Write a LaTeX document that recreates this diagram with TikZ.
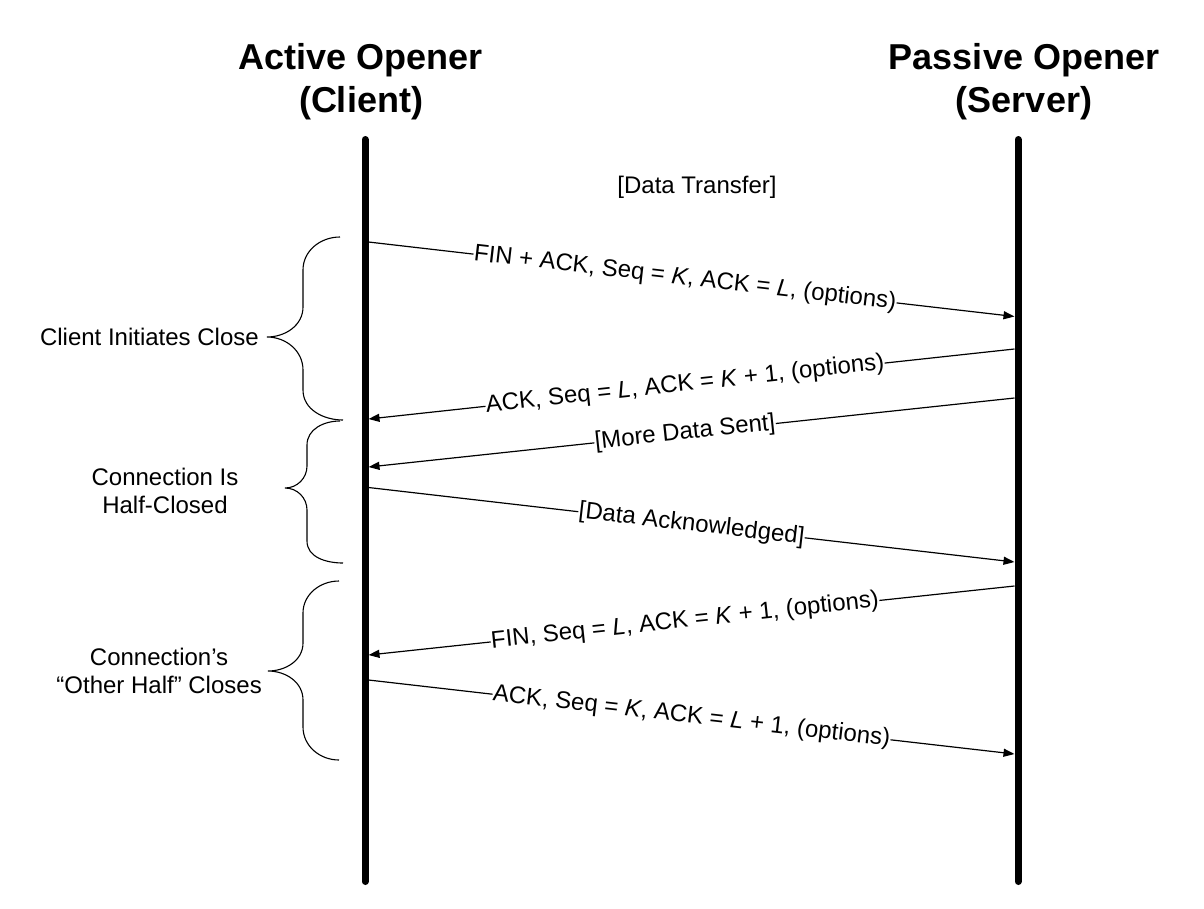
\documentclass[tikz,border=0pt]{standalone}
\usepackage{fontspec}
\setmainfont{Liberation Sans}
\usetikzlibrary{arrows.meta, positioning}
\newcommand{\msgfont}{\fontsize{24}{28}\selectfont}
\newcommand{\headfont}{\fontsize{36}{43}\selectfont\bfseries}

\begin{document}
\begin{tikzpicture}[x=1pt, y=-1pt,% styles used in image code
         > = {Triangle[length=11pt, width=8pt]}, % defined in "arrows.meta
lifeline/.style = {line width=7pt, line cap=round},
     msg/.style = {->, line width=1.2pt},
     lbl/.style = {sloped, fill=white, inner sep=0.5pt, font=\msgfont},
   curly/.style = {line width=1.1pt},
   phase/.style = {align=center, inner sep=0pt, font=\msgfont},
    head/.style = {align=center, inner sep=0pt, font=\headfont}
                        ]
\useasboundingbox (0,0) rectangle (1204,908);
	% the two ends
	\node[head] (client) at (361,82) {Active Opener\\(Client)};
	\node[head] (server) at (1024,82) {Passive Opener\\(Server)};
	\coordinate (ctop) at (365,139.5);
	\coordinate (cbot) at (365,881.5);
	\coordinate (stop) at (1018,139.5);
	\coordinate (sbot) at (1018,881.5);
	\draw[lifeline] (ctop) -- (cbot);
	\draw[lifeline] (stop) -- (sbot);

	\node[font=\msgfont] (xfer) at (697,187) {[Data Transfer]};

	% message end points
	\coordinate (c1) at (368.5,242);   \coordinate (s1) at (1014.5,316.5);
	\coordinate (s2) at (1014.5,349);  \coordinate (c2) at (368.5,419);
	\coordinate (s3) at (1014.5,398);  \coordinate (c3) at (368.5,467);
	\coordinate (c4) at (368.5,487.5); \coordinate (s4) at (1014.5,562);
	\coordinate (s5) at (1014.5,586);  \coordinate (c5) at (368.5,655);
	\coordinate (c6) at (368.5,680);   \coordinate (s6) at (1014.5,754);

	\draw [msg] (c1) -- (s1) node[lbl,pos=0.49] {FIN + ACK, Seq = \textit{K}, ACK = \textit{L}, (options)};
	\draw [msg] (s2) -- (c2) node[lbl,pos=0.51] {ACK, Seq = \textit{L}, ACK = \textit{K} + 1, (options)};
	\draw [msg] (s3) -- (c3) node[lbl,pos=0.51] {[More Data Sent]};
	\draw [msg] (c4) -- (s4) node[lbl,pos=0.5] {[Data Acknowledged]};
	\draw [msg] (s5) -- (c5) node[lbl,pos=0.51] {FIN, Seq = \textit{L}, ACK = \textit{K} + 1, (options)};
	\draw [msg] (c6) -- (s6) node[lbl,pos=0.5] {ACK, Seq = \textit{K}, ACK = \textit{L} + 1, (options)};

	% braces for the phases
	\coordinate (tip1) at (267,337);
	\coordinate (tip2) at (285,488);
	\coordinate (tip3) at (268,671);
	\draw[curly] (340,237) to[out=180,in=90] (303,270) -- (303,307)
	             to[out=-90,in=0] (tip1) to[out=0,in=90] (303,370) -- (303,390)
	             to[out=-90,in=180] (343,420);
	\draw[curly] (340,421) to[out=180,in=90] (307,445) -- (307,466)
	             to[out=-90,in=0] (tip2) to[out=0,in=90] (307,510) -- (307,541)
	             to[out=-90,in=180] (343,563);
	\draw[curly] (339,581) to[out=180,in=90] (303,613) -- (303,643)
	             to[out=-90,in=0] (tip3) to[out=0,in=90] (303,700) -- (303,727)
	             to[out=-90,in=180] (339,760);

	\node[phase, left=8pt of tip1] (init) {Client Initiates Close};
	\node[phase] (half) at (165,491) {Connection Is\\Half-Closed};
	\node[phase, left=6pt of tip3] (other) {Connection’s\\“Other Half” Closes};
\end{tikzpicture}
\end{document}
